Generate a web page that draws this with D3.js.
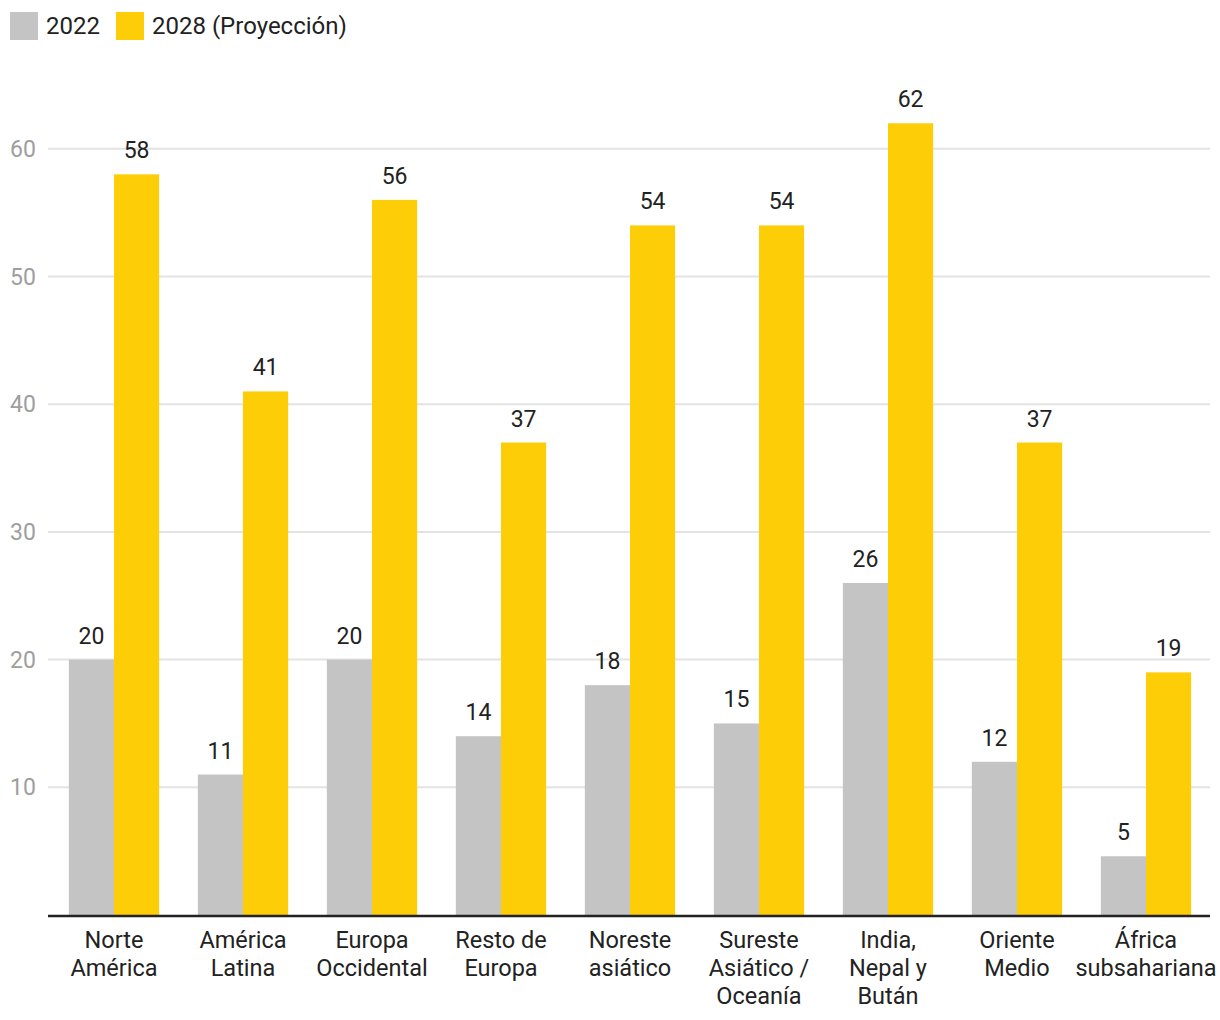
<!DOCTYPE html>
<html><head><meta charset="utf-8">
<script src="https://cdn.jsdelivr.net/npm/d3@7"></script>
<style>body{margin:0;background:#fff;font-family:Roboto,sans-serif;overflow:hidden;} svg{display:block;}</style>
</head><body><svg id="c" width="1220" height="1020"></svg>
<script>
const categories = [["Norte","América"],["América","Latina"],["Europa","Occidental"],["Resto de","Europa"],["Noreste","asiático"],["Sureste","Asiático /","Oceanía"],["India,","Nepal y","Bután"],["Oriente","Medio"],["África","subsahariana"]];
const seriesNames = ["2022","2028 (Proyección)"];
const values2022 = [20,11,20,14,18,15,26,12,4.6];
const values2028 = [58,41,56,37,54,54,62,37,19];
const yTicks = [10,20,30,40,50,60];
const colors = ["#c4c4c4","#fdcd08"];

const svg = d3.select("#c");
const x0 = d3.scaleBand().domain(d3.range(categories.length)).range([49.5,1210.5]).paddingInner(0.3).paddingOuter(0.15);
const x1 = d3.scaleBand().domain([0,1]).range([0,x0.bandwidth()]);
const y = d3.scaleLinear().domain([0,60]).range([915,148.8]);

// grid
svg.append("g").selectAll("line").data(yTicks).join("line")
  .attr("x1",48).attr("x2",1210).attr("y1",d=>y(d)).attr("y2",d=>y(d))
  .attr("stroke","#e3e3e3").attr("stroke-width",2);
svg.append("g").selectAll("text").data(yTicks).join("text")
  .attr("x",10).attr("y",d=>y(d)+8).attr("fill","#9e9e9e").attr("font-size",23).text(d=>d);

const series = [values2022, values2028];
series.forEach((vals,si)=>{
  const g = svg.append("g");
  g.selectAll("rect").data(vals).join("rect")
    .attr("x",(d,i)=>x0(i)+x1(si)).attr("width",x1.bandwidth())
    .attr("y",d=>y(d)).attr("height",d=>y(0)-y(d)).attr("fill",colors[si]);
  g.selectAll("text").data(vals).join("text")
    .attr("x",(d,i)=>x0(i)+x1(si)+x1.bandwidth()/2).attr("y",d=>y(d)-16)
    .attr("text-anchor","middle").attr("font-size",23).attr("fill","#222")
    .text(d=>d3.format(".0f")(d));
});

// axis
svg.append("line").attr("x1",48).attr("x2",1210).attr("y1",y(0)+1).attr("y2",y(0)+1)
  .attr("stroke","#222").attr("stroke-width",2.5);

const cl = svg.append("g").selectAll("text").data(categories).join("text")
  .attr("x",(d,i)=>x0(i)+x0.bandwidth()/2).attr("y",948)
  .attr("text-anchor","middle").attr("font-size",23.5).attr("fill","#222");
cl.selectAll("tspan").data(d=>d).join("tspan")
  .attr("x",function(){return this.parentNode.getAttribute("x");})
  .attr("dy",(d,i)=>i===0?0:28).text(d=>d);

// legend
const lg = svg.append("g");
const lx = [10,116];
seriesNames.forEach((n,i)=>{
  lg.append("rect").attr("x",lx[i]).attr("y",12).attr("width",28).attr("height",28).attr("fill",colors[i]);
  lg.append("text").attr("x",lx[i]+36).attr("y",34).attr("font-size",24).attr("fill","#222").text(n);
});
</script></body></html>
